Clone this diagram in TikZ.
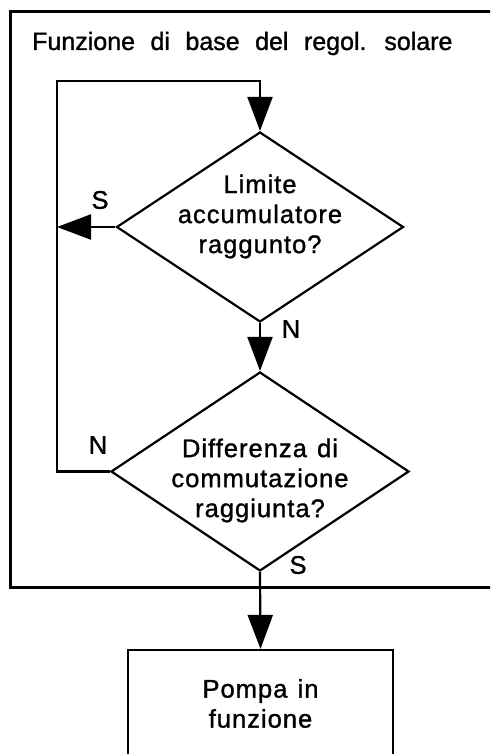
\documentclass[tikz,border=0pt]{standalone}
\usepackage{fontspec}
\setmainfont{Liberation Sans}[FakeBold=1.2]
\newfontfamily\widesans{Liberation Sans}[LetterSpace=4,FakeBold=1.2]
\usetikzlibrary{arrows.meta,shapes.geometric}

\begin{document}
\begin{tikzpicture}[x=1pt,y=-1pt,
  txt/.style={inner sep=0pt,font=\widesans\fontsize{25.5}{30}\selectfont},
  dec/.style={draw,diamond,line width=2.2pt,inner sep=0pt},
  flow/.style={line width=2.2pt,-{Triangle[length=34pt,width=25pt]}}]
\useasboundingbox (0,0) rectangle (490,754);
\clip (0,0) rectangle (490,754);
% frame of the base function
\draw[line width=3pt] (10.5,11.5) rectangle (520,587);
\node[inner sep=0pt,font=\fontsize{25}{30}\selectfont,anchor=base west] (title) at (32,50)
  {\spaceskip=0.62em Funzione di base del regol. solare};
% decisions
\node[dec,minimum width=287pt,minimum height=190pt] (d1) at (260,227) {};
\node[dec,minimum width=298pt,minimum height=199pt] (d2) at (260,471.5) {};
\node[txt,align=center] (t1) at ([yshift=10.5pt]d1.center)
  {Limite\\accumulatore\\raggunto?};
\node[txt,align=center] (t2) at ([yshift=-9pt]d2.center)
  {\spaceskip=0.4em Differenza di\\commutazione\\raggiunta?};
% action
\node[draw,line width=2.2pt,txt,align=center,minimum width=265pt,
  minimum height=107pt] (pump) at (260.5,703.5)
  {\spaceskip=0.4em Pompa in\\funzione};
% connectors
\coordinate (cL) at (57,81);
\draw[flow] (d2.west) -| (cL) -| (d1.north);
\draw[flow] (d1.west) -- (d1.west -| cL);
\draw[flow] (d1.south) -- (d2.north);
\draw[flow] (d2.south) -- (pump.north);
% answers
\node[txt] (s1) at (100,200) {S};
\node[txt] (n1) at (291,329) {N};
\node[txt] (n2) at (98,445) {N};
\node[txt] (s2) at (298,565) {S};
\end{tikzpicture}
\end{document}
